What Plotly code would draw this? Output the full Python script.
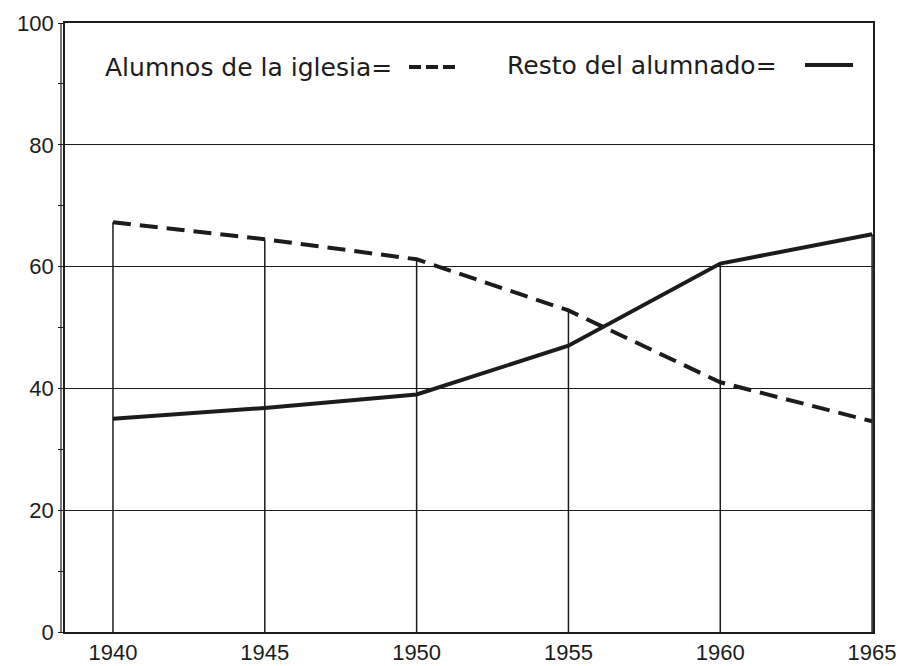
import plotly.graph_objects as go

# ---- data ----
years = [1940, 1945, 1950, 1955, 1960, 1965]
year_labels = ["1940", "1945", "1950", "1955", "1960", "1965"]
iglesia = [67.3, 64.5, 61.2, 52.8, 41.0, 34.6]   # Alumnos de la iglesia (dashed)
resto = [35.0, 36.8, 39.0, 47.0, 60.5, 65.3]     # Resto del alumnado (solid)
y_ticks = [0, 20, 40, 60, 80, 100]
y_minor = [10, 30, 50, 70, 90]

INK = "#1c1c1c"
FONT = "DejaVu Sans"
TICKFONT = "Liberation Sans"

# vertical drop lines from 0 up to the higher of the two series
drop_x, drop_y = [], []
for x, a, b in zip(years, iglesia, resto):
    drop_x += [x, x, None]
    drop_y += [0, max(a, b), None]

fig = go.Figure()
fig.add_trace(go.Scatter(x=drop_x, y=drop_y, mode="lines",
                         line=dict(color=INK, width=1.5), hoverinfo="skip",
                         showlegend=False))
fig.add_trace(go.Scatter(x=years, y=iglesia, mode="lines", name="Alumnos de la iglesia",
                         line=dict(color=INK, width=4, dash="18px,9px"),
                         showlegend=False))
fig.add_trace(go.Scatter(x=years, y=resto, mode="lines", name="Resto del alumnado",
                         line=dict(color=INK, width=4),
                         showlegend=False))

L, R, T, B = 65, 25, 23, 34
W, H = 898, 666
pw, ph = W - L - R, H - T - B

def px(x):
    return (x - L) / pw

def py(y):
    return (H - B - y) / ph

fig.update_layout(
    width=W, height=H,
    margin=dict(l=L, r=R, t=T, b=B, pad=0),
    paper_bgcolor="white", plot_bgcolor="white",
    font=dict(family=FONT, color=INK),
    xaxis=dict(range=[1938.42, 1965.03], tickvals=years, ticktext=year_labels,
               showgrid=False, zeroline=False, showline=True, mirror=True,
               linecolor=INK, linewidth=1.5, ticks="", automargin=False,
               tickfont=dict(size=22, family=TICKFONT, color=INK)),
    yaxis=dict(range=[0, 100], tickvals=y_ticks, ticktext=[str(v) for v in y_ticks],
               showgrid=True, gridcolor=INK, gridwidth=1.2, zeroline=False,
               showline=True, mirror=True, linecolor=INK, linewidth=1.8,
               ticks="outside", ticklen=5, tickcolor=INK, tickwidth=1.2, automargin=False,
               minor=dict(tickvals=y_minor, ticks="outside", ticklen=5,
                          tickcolor=INK, tickwidth=1.2, showgrid=False),
               tickfont=dict(size=22, family=TICKFONT, color=INK)),
    shapes=[
        # second stroke of the hand-drawn double y axis
        dict(type="line", xref="paper", yref="paper", x0=px(61), x1=px(61), y0=0, y1=1,
             line=dict(color=INK, width=1.2)),
        # legend samples
        dict(type="line", xref="paper", yref="paper", x0=px(409), x1=px(460),
             y0=py(67), y1=py(67), line=dict(color=INK, width=4, dash="12px,5px")),
        dict(type="line", xref="paper", yref="paper", x0=px(805), x1=px(853),
             y0=py(65), y1=py(65), line=dict(color=INK, width=4)),
    ],
    annotations=[
        dict(text="Alumnos de la iglesia=", xref="paper", yref="paper",
             x=px(103), y=py(67), xanchor="left", yanchor="middle", showarrow=False,
             font=dict(size=25, family=FONT, color=INK)),
        dict(text="Resto del alumnado=", xref="paper", yref="paper",
             x=px(505), y=py(65), xanchor="left", yanchor="middle", showarrow=False,
             font=dict(size=25, family=FONT, color=INK)),
    ],
)

fig.write_html(
    "out.html",
    config={"displayModeBar": False},
    post_script="document.body.style.margin='0';document.body.style.overflow='hidden';",
)
